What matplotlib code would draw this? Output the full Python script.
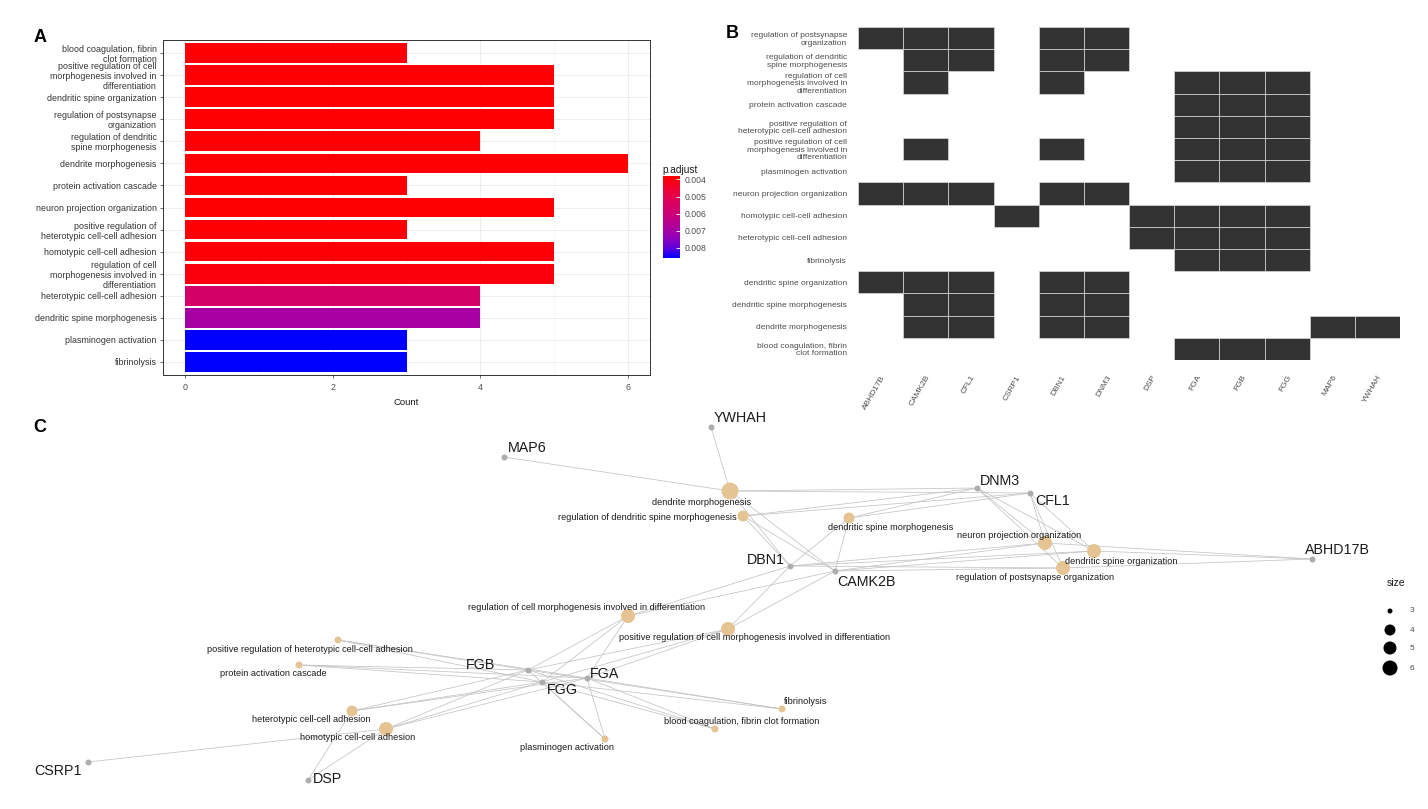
import matplotlib
matplotlib.use("Agg")
import matplotlib.pyplot as plt
import numpy as np
from matplotlib.colors import LinearSegmentedColormap, Normalize
from matplotlib.cm import ScalarMappable

plt.rcParams['font.family'] = ['Liberation Sans', 'DejaVu Sans']

W, H = 1428, 809

# ---------------- data ----------------
terms_A = [
    "blood coagulation, fibrin\nclot formation",
    "positive regulation of cell\nmorphogenesis involved in\ndifferentiation",
    "dendritic spine organization",
    "regulation of postsynapse\norganization",
    "regulation of dendritic\nspine morphogenesis",
    "dendrite morphogenesis",
    "protein activation cascade",
    "neuron projection organization",
    "positive regulation of\nheterotypic cell-cell adhesion",
    "homotypic cell-cell adhesion",
    "regulation of cell\nmorphogenesis involved in\ndifferentiation",
    "heterotypic cell-cell adhesion",
    "dendritic spine morphogenesis",
    "plasminogen activation",
    "fibrinolysis",
]
counts_A = [3, 5, 5, 5, 4, 6, 3, 5, 3, 5, 5, 4, 4, 3, 3]
padj_A = [0.00385, 0.00385, 0.00385, 0.00385, 0.00385, 0.00385, 0.00385, 0.00385,
          0.00385, 0.00390, 0.00400, 0.00560, 0.00690, 0.00860, 0.00860]

genes_B = ["ABHD17B", "CAMK2B", "CFL1", "CSRP1", "DBN1", "DNM3", "DSP",
           "FGA", "FGB", "FGG", "MAP6", "YWHAH"]
terms_B = [
    "regulation of postsynapse\norganization",
    "regulation of dendritic\nspine morphogenesis",
    "regulation of cell\nmorphogenesis involved in\ndifferentiation",
    "protein activation cascade",
    "positive regulation of\nheterotypic cell-cell adhesion",
    "positive regulation of cell\nmorphogenesis involved in\ndifferentiation",
    "plasminogen activation",
    "neuron projection organization",
    "homotypic cell-cell adhesion",
    "heterotypic cell-cell adhesion",
    "fibrinolysis",
    "dendritic spine organization",
    "dendritic spine morphogenesis",
    "dendrite morphogenesis",
    "blood coagulation, fibrin\nclot formation",
]
members_B = [
    ["ABHD17B", "CAMK2B", "CFL1", "DBN1", "DNM3"],
    ["CAMK2B", "CFL1", "DBN1", "DNM3"],
    ["CAMK2B", "DBN1", "FGA", "FGB", "FGG"],
    ["FGA", "FGB", "FGG"],
    ["FGA", "FGB", "FGG"],
    ["CAMK2B", "DBN1", "FGA", "FGB", "FGG"],
    ["FGA", "FGB", "FGG"],
    ["ABHD17B", "CAMK2B", "CFL1", "DBN1", "DNM3"],
    ["CSRP1", "DSP", "FGA", "FGB", "FGG"],
    ["DSP", "FGA", "FGB", "FGG"],
    ["FGA", "FGB", "FGG"],
    ["ABHD17B", "CAMK2B", "CFL1", "DBN1", "DNM3"],
    ["CAMK2B", "CFL1", "DBN1", "DNM3"],
    ["CAMK2B", "CFL1", "DBN1", "DNM3", "MAP6", "YWHAH"],
    ["FGA", "FGB", "FGG"],
]

# network layout (panel C), pixel coordinates of the layout
gene_nodes = ["YWHAH", "MAP6", "DNM3", "CFL1", "ABHD17B", "DBN1", "CAMK2B",
              "FGB", "FGA", "FGG", "CSRP1", "DSP"]
gene_xy = [(711, 427), (504, 457), (977, 488), (1030, 493), (1312, 559),
           (790, 566), (835, 571), (528, 670), (587, 678), (542, 682),
           (88, 762), (308, 780)]
gene_label_xy = [(740, 418), (527, 448), (1000, 481), (1053, 501), (1337, 550),
                 (766, 560), (866, 582), (481, 665), (605, 674), (562, 690),
                 (58, 771), (327, 779)]

term_nodes = [
    "dendrite morphogenesis",
    "regulation of dendritic spine morphogenesis",
    "dendritic spine morphogenesis",
    "neuron projection organization",
    "dendritic spine organization",
    "regulation of postsynapse organization",
    "regulation of cell morphogenesis involved in differentiation",
    "positive regulation of cell morphogenesis involved in differentiation",
    "positive regulation of heterotypic cell-cell adhesion",
    "protein activation cascade",
    "heterotypic cell-cell adhesion",
    "homotypic cell-cell adhesion",
    "fibrinolysis",
    "blood coagulation, fibrin clot formation",
    "plasminogen activation",
]
term_xy = [(730, 491), (743, 516), (849, 518), (1045, 543), (1094, 551),
           (1063, 568), (628, 616), (728, 629), (338, 640), (299, 665),
           (352, 711), (386, 729), (782, 709), (715, 729), (605, 739)]
term_label_xy = [(702, 502), (647, 517), (891, 527), (1019, 536), (1121, 561),
                 (1035, 577), (587, 608), (755, 638), (310, 650), (273, 674),
                 (311, 719), (358, 738), (806, 702), (742, 722), (567, 747)]

size_levels = [3, 4, 5, 6]

# ---------------- figure ----------------
fig = plt.figure(figsize=(W / 100, H / 100), dpi=100)
fig.patch.set_facecolor('white')

cmap = LinearSegmentedColormap.from_list(
    "rb", [(0.0, "#FF0000"), (0.25, "#E5004F"), (0.5, "#C4007F"),
           (0.75, "#9300BA"), (0.88, "#5E00DE"), (1.0, "#0000FF")])
norm = Normalize(vmin=0.0038, vmax=0.0086)

# ---- panel C (full-figure layer) ----
axC = fig.add_axes([0, 0, 1, 1], zorder=0)
axC.set_xlim(0, W)
axC.set_ylim(H, 0)
axC.axis('off')
axC.patch.set_alpha(0)

gpos = dict(zip(gene_nodes, gene_xy))
term_plain = [t.replace("\n", " ") for t in terms_B]
tpos = dict(zip(term_nodes, term_xy))
term_count = {t: len(m) for t, m in zip(term_plain, members_B)}
for t, mem in zip(term_plain, members_B):
    x0, y0 = tpos[t]
    for g in mem:
        x1, y1 = gpos[g]
        axC.plot([x0, x1], [y0, y1], color='#C4C4C4', lw=0.55, zorder=1)

diam = {3: 7, 4: 11, 5: 14, 6: 17}
tx = [p[0] for p in term_xy]
ty = [p[1] for p in term_xy]
ts = [(diam[term_count[t]] * 0.72) ** 2 for t in term_nodes]
axC.scatter(tx, ty, s=ts, color='#E5C494', zorder=3, linewidths=0)
gx = [p[0] for p in gene_xy]
gy = [p[1] for p in gene_xy]
axC.scatter(gx, gy, s=(6 * 0.72) ** 2, color='#ADADAD', zorder=3, linewidths=0)

for t, (lx, ly) in zip(term_nodes, term_label_xy):
    axC.text(lx, ly, t, fontsize=6.6, ha='center', va='center', color='#1A1A1A', zorder=4)
for g, (lx, ly) in zip(gene_nodes, gene_label_xy):
    axC.text(lx, ly, g, fontsize=10.3, ha='center', va='center', color='#1A1A1A', zorder=4)

# size legend
axC.text(1396, 583, "size", fontsize=7.5, ha='center', va='center', color='#1A1A1A')
leg_y = [611, 630, 648, 668]
leg_d = {3: 5, 4: 11, 5: 13, 6: 15}
axC.scatter([1390] * 4, leg_y, s=[(leg_d[s] * 0.72) ** 2 for s in size_levels],
            color='black', linewidths=0)
for s, y in zip(size_levels, leg_y):
    axC.text(1410, y, str(s), fontsize=6, ha='left', va='center', color='#4D4D4D')

# ---- panel A ----
axA = fig.add_axes([163 / W, 1 - 375 / H, (650 - 163) / W, (375 - 40) / H], zorder=2)
ypos = np.arange(len(terms_A))
axA.barh(ypos, counts_A, height=0.9, color=cmap(norm(np.array(padj_A))), zorder=3)
axA.set_ylim(len(terms_A) - 0.4, -0.6)
axA.set_xlim(-0.3, 6.3)
axA.set_yticks(ypos)
axA.set_yticklabels(terms_A, fontsize=6.4, color='#333333', linespacing=1.15)
axA.set_xticks([0, 2, 4, 6])
axA.set_xticks([1, 3, 5], minor=True)
axA.tick_params(axis='x', labelsize=6.4, labelcolor='#4D4D4D', length=2.5, color='#333333', width=0.5)
axA.tick_params(axis='x', which='minor', length=0)
axA.tick_params(axis='y', length=2.5, color='#333333', width=0.5, pad=2)
axA.grid(True, which='major', color='#EBEBEB', lw=0.6, zorder=0)
axA.grid(True, which='minor', axis='x', color='#F2F2F2', lw=0.4, zorder=0)
axA.set_axisbelow(True)
for sp in axA.spines.values():
    sp.set_color('#333333')
    sp.set_linewidth(0.7)
axA.set_xlabel("Count", fontsize=6.8, color='#1A1A1A', labelpad=4)

# colorbar
cax = fig.add_axes([663 / W, 1 - 258 / H, 17 / W, 82 / H], zorder=2)
sm = ScalarMappable(norm=norm, cmap=cmap)
cb = fig.colorbar(sm, cax=cax, ticks=[0.004, 0.005, 0.006, 0.007, 0.008])
cb.ax.invert_yaxis()
cb.ax.set_yticklabels(["0.004", "0.005", "0.006", "0.007", "0.008"])
cb.ax.tick_params(labelsize=6.2, labelcolor='#4D4D4D', length=3, color='white',
                  direction='in', width=0.6)
cb.outline.set_visible(False)
fig.text(662 / W, 1 - 170 / H, "p.adjust", fontsize=7.3, color='#1A1A1A', ha='left', va='center')

# ---- panel B ----
axB = fig.add_axes([858 / W, 1 - 360 / H, (1400 - 858) / W, (360 - 27) / H], zorder=2)
mat = np.array([[1 if g in mem else 0 for g in genes_B] for mem in members_B])
rows, cols = np.nonzero(mat)
axB.bar(cols, 1.0, width=1.0, bottom=rows, align='edge', color='#333333',
        edgecolor='#D9D9D9', linewidth=0.5)
axB.set_xlim(0, len(genes_B))
axB.set_ylim(len(terms_B), 0)
axB.set_xticks(np.arange(len(genes_B)) + 0.5)
axB.set_xticklabels(genes_B, rotation=60, ha='right', va='top', rotation_mode='anchor',
                    fontsize=6, color='#4D4D4D')
axB.set_yticks(np.arange(len(terms_B)) + 0.5)
axB.set_yticklabels(terms_B, fontsize=6, color='#4D4D4D', linespacing=1.1)
axB.tick_params(length=0)
axB.tick_params(axis='x', pad=10)
axB.tick_params(axis='y', pad=8)
for sp in axB.spines.values():
    sp.set_visible(False)

# panel letters
fig.text(40 / W, 1 - 37 / H, "A", fontsize=13, fontweight='bold', ha='center', va='center')
fig.text(732 / W, 1 - 34 / H, "B", fontsize=13, fontweight='bold', ha='center', va='center')
fig.text(40 / W, 1 - 428 / H, "C", fontsize=13, fontweight='bold', ha='center', va='center')

fig.savefig("out.png", dpi=100, facecolor='white')
